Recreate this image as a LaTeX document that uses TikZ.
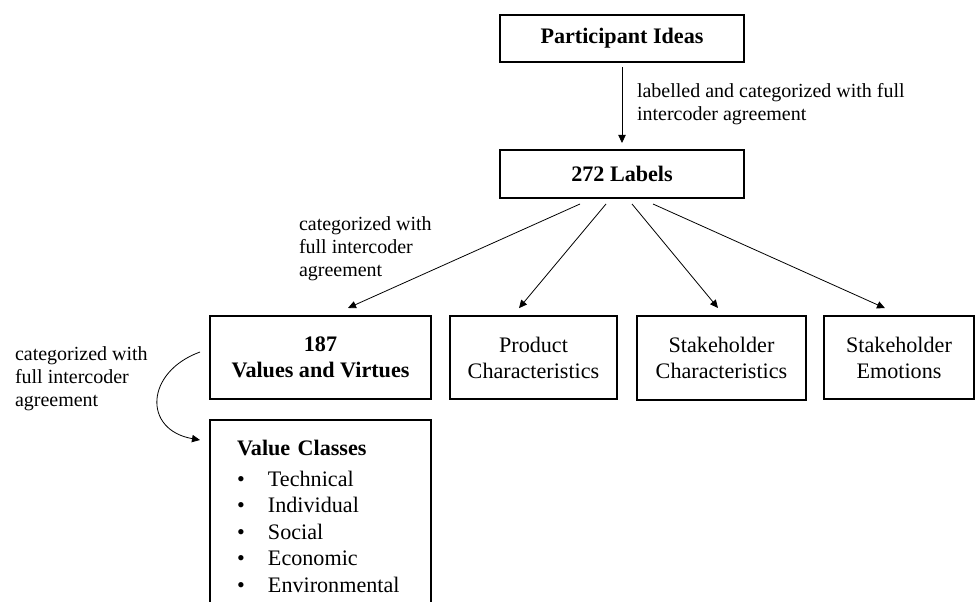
\documentclass[tikz,border=0pt]{standalone}
\usepackage{fontspec}
\setmainfont{Liberation Serif}
\usepackage{tikz}
\usetikzlibrary{arrows.meta,calc}

\begin{document}
\begin{tikzpicture}[x=0.75pt,y=-0.75pt,
  every node/.style={outer sep=0pt},
  box/.style={draw, line width=1.1pt, inner sep=0pt, align=center, font=\fontsize{16.6}{19.5}\selectfont},
  lbl/.style={inner sep=0pt, anchor=north west, align=left, font=\fontsize{15}{17.5}\selectfont},
  arr/.style={-{Triangle[length=6pt,width=5.5pt]}, line width=0.6pt}]
            \useasboundingbox (0,0) rectangle (975,602);
            \node[box, minimum width=183pt, minimum height=35.25pt] (ideas) at (622,38.5) {\textbf{Participant Ideas}};
            \node[box, minimum width=183pt, minimum height=36pt] (labels) at (622,174) {\textbf{272 Labels}};
            \node[box, minimum width=165.75pt, minimum height=62.25pt] (values) at (320.5,357.5) {\textbf{187}\\\textbf{Values and Virtues}};
            \node[box, minimum width=125.25pt, minimum height=62pt] (product) at (533.5,357.5) {Product\\Characteristics};
            \node[box, minimum width=126.75pt, minimum height=63pt] (stakechar) at (721.5,358) {Stakeholder\\Characteristics};
            \node[box, minimum width=112.5pt, minimum height=62pt] (emotions) at (899,357.5) {Stakeholder\\Emotions};
            \node[box, anchor=north, align=left, text width=125.25pt, inner xsep=20.25pt, inner ysep=15pt, font=\fontsize{16.6}{19.9}\selectfont] (classes) at (320.5,420)
              {\textbf{Value Classes}\\[3.3pt]
               \makebox[23.25pt][l]{\textbullet}Technical\\
               \makebox[23.25pt][l]{\textbullet}Individual\\
               \makebox[23.25pt][l]{\textbullet}Social\\
               \makebox[23.25pt][l]{\textbullet}Economic\\
               \makebox[23.25pt][l]{\textbullet}Environmental};
            \node[lbl] (lblideas) at (637,83.3) {labelled and categorized with full\\intercoder agreement};
            \node[lbl] (lbllabels) at (299,216.3) {categorized with\\full intercoder\\agreement};
            \node[lbl] (lblvalues) at (15,346.3) {categorized with\\full intercoder\\agreement};
            \draw[arr] ($(ideas.south)+(0,5)$) -- ($(labels.north)+(0,-7)$);
            \draw[arr] ($(labels.south)+(-42,6)$) -- ($(values.north)+(27.5,-8)$);
            \draw[arr] ($(labels.south)+(-16,6)$) -- ($(product.north)+(-14.5,-8)$);
            \draw[arr] ($(labels.south)+(10,6)$) -- ($(stakechar.north)+(-3.5,-8)$);
            \draw[arr] ($(labels.south)+(31,6)$) -- ($(emotions.north)+(-14,-8)$);
            \draw[arr] ($(values.west)+(-10,-5.5)$) to[out=200,in=170,looseness=1.7] ($(classes.north west)+(-10,20)$);
            \end{tikzpicture}
\end{document}
